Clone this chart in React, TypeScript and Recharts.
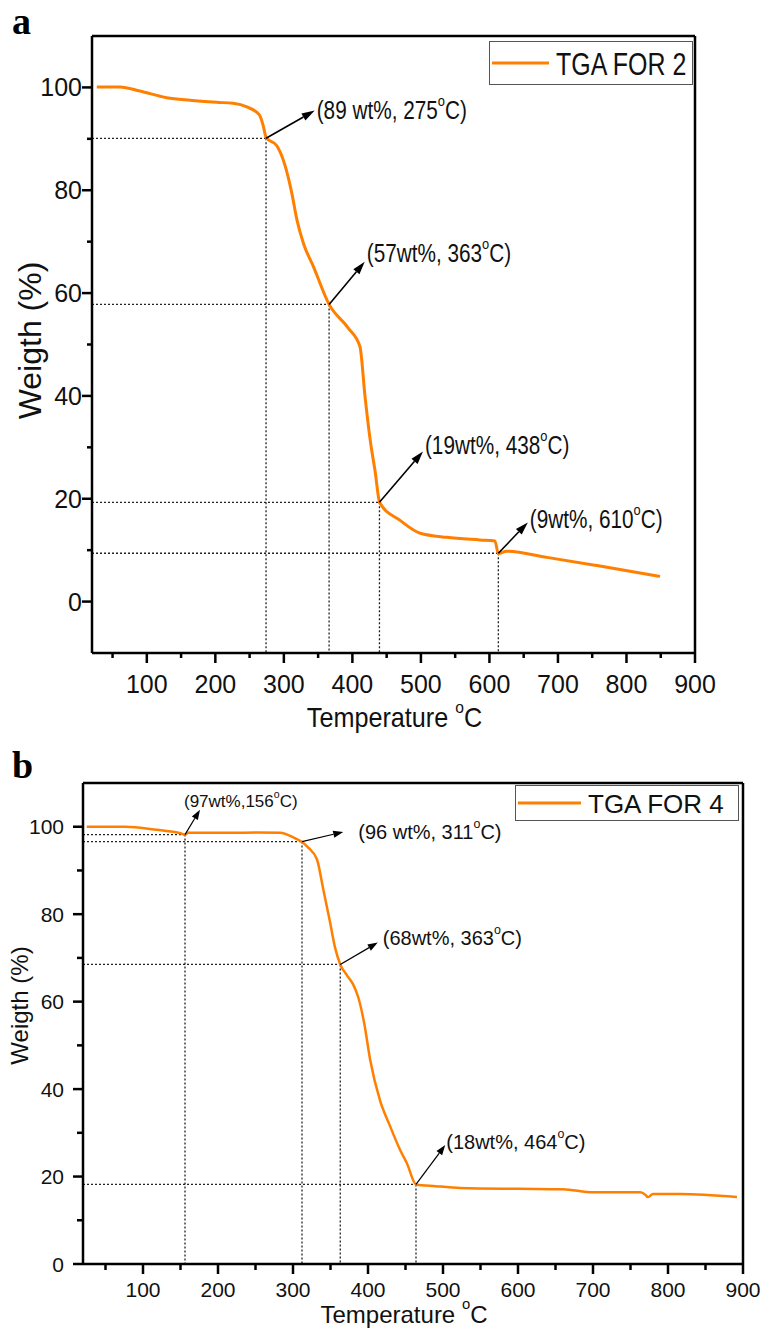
import { LineChart, Line, XAxis, YAxis, ReferenceLine, Legend } from 'recharts';

const FONT = '"Liberation Sans", Arial, Helvetica, sans-serif';
const ORANGE = '#ff7f00';

// ---- panel a : TGA FOR 2
const tempA = [27, 61, 90, 129, 163, 202, 226, 246, 264, 270, 274, 290, 302, 311.5, 319, 328.5, 343, 366, 394, 411, 418.5, 426, 433, 440, 469.6, 499, 537.8, 586, 608, 613, 625, 684, 757, 849];
const weightA = [100.1, 100.1, 99.3, 98.0, 97.5, 97.1, 96.9, 96.2, 94.7, 92.5, 90.3, 88.6, 84.7, 79.5, 74.3, 69.7, 65.2, 57.8, 53.2, 49.6, 39.8, 31.4, 25.5, 19.2, 15.8, 13.3, 12.5, 12.0, 11.8, 9.3, 9.8, 8.6, 7.0, 4.9];
const markTempA = [274, 366, 439.5, 613];
const markWeightA = [90.1, 57.8, 19.3, 9.4];
const tipTempA = [345, 418, 503, 656];
const tipWeightA = [95.5, 66.1, 29.2, 15.4];
const labelsA = ['(89 wt%, 275°C)', '(57wt%, 363°C)', '(19wt%, 438°C)', '(9wt%, 610°C)'];

// ---- panel b : TGA FOR 4
const tempB = [25, 76, 118, 150, 156, 160, 200, 252, 283, 300, 311, 320, 332, 340, 349, 356, 363, 372, 380, 387, 395, 403, 416, 429, 443, 452, 464, 490, 523, 600, 660, 700, 763, 770, 773, 780, 816, 892];
const weightB = [100, 100, 99.3, 98.5, 98.2, 98.6, 98.6, 98.7, 98.6, 97.6, 96.6, 95.3, 92.5, 86, 78.5, 72.4, 68.5, 66, 64, 61, 55, 46.6, 37.4, 31.7, 26, 23, 18.2, 17.8, 17.4, 17.2, 17.1, 16.4, 16.4, 15.8, 15.3, 16, 16, 15.3];
const markTempB = [156, 312, 363, 464];
const markWeightB = [98.2, 96.6, 68.5, 18.2];
const tipTempB = [176, 367, 413, 503];
const tipWeightB = [103.9, 98.8, 73.5, 27.2];
const labelsB = ['(97wt%,156°C)', '(96 wt%, 311°C)', '(68wt%, 363°C)', '(18wt%, 464°C)'];

// ticks (major ones carry labels)
const xTicks = [50, 100, 150, 200, 250, 300, 350, 400, 450, 500, 550, 600, 650, 700, 750, 800, 850, 900];
const xMajor = [100, 200, 300, 400, 500, 600, 700, 800, 900];
const yTicks = [0, 10, 20, 30, 40, 50, 60, 70, 80, 90, 100];
const yMajor = [0, 20, 40, 60, 80, 100];

function withDegree(s: string, size: number) {
  const parts = String(s).split('°');
  if (parts.length < 2) return s;
  const up = size * 0.4;
  return [
    <tspan key="a">{parts[0]}</tspan>,
    <tspan key="o" dy={-up} fontSize={size * 0.62}>o</tspan>,
    <tspan key="c" dy={up} fontSize={size}>{parts[1]}</tspan>,
  ];
}

function SText({ x, y, size, sx = 1, anchor = 'start', rotate = 0, weight = 'normal', children }: any) {
  return (
    <text
      transform={`translate(${x},${y}) rotate(${rotate}) scale(${sx},1)`}
      fontSize={size}
      fontFamily={FONT}
      fontWeight={weight}
      textAnchor={anchor}
      dominantBaseline="central"
      fill="#111"
    >
      {withDegree(children, size)}
    </text>
  );
}

const AXIS_H = 40;
const AXIS_W = 60;

function TgaPanel({ cfg }: any) {
  const data = cfg.temps.map((t: number, i: number) => ({ t, w: cfg.weights[i] }));
  const [yMin, yMax] = cfg.yDomain;
  const s = cfg.style;
  const m = cfg.margin;
  const margin = { top: m.top, right: m.right, left: m.left - AXIS_W, bottom: m.bottom - AXIS_H };

  const xTick = (p: any) => {
    const v = p.payload.value;
    const major = xMajor.includes(v);
    return (
      <g>
        <line x1={p.x} y1={p.y} x2={p.x} y2={p.y + (major ? s.majorLen : s.minorLen)} stroke="#000" strokeWidth={s.axisW} />
        {major && <SText x={p.x} y={p.y + s.xLabelDy} size={s.tickSize} sx={s.tickSx} anchor="middle">{v}</SText>}
      </g>
    );
  };
  const yTick = (p: any) => {
    const v = p.payload.value;
    const major = yMajor.includes(v);
    return (
      <g>
        <line x1={p.x} y1={p.y} x2={p.x - (major ? s.majorLen : s.minorLen)} y2={p.y} stroke="#000" strokeWidth={s.axisW} />
        {major && <SText x={p.x + s.yLabelDx} y={p.y} size={s.tickSize} sx={s.tickSx} anchor="end">{v}</SText>}
      </g>
    );
  };

  const xTitle = (p: any) => {
    const vb = p.viewBox;
    return <SText x={vb.x + vb.width / 2 + s.xTitle.dx} y={vb.y + s.xTitle.dy} size={s.xTitle.size} sx={s.xTitle.sx} anchor="middle">Temperature °C</SText>;
  };
  const yTitle = (p: any) => {
    const vb = p.viewBox;
    return <SText x={vb.x + vb.width + s.yTitle.dx} y={vb.y + vb.height / 2 + s.yTitle.dy} size={s.yTitle.size} anchor="middle" rotate={-90}>Weigth (%)</SText>;
  };

  const arrow = (i: number) => (p: any) => {
    const { x1, y1, x2, y2 } = p;
    const a = Math.atan2(y2 - y1, x2 - x1);
    const c = Math.cos(a), sn = Math.sin(a);
    const L = s.head[0], W = s.head[1] / 2;
    const bx = x2 - L * c, by = y2 - L * sn;
    const pts = `${x2},${y2} ${bx + W * sn},${by - W * c} ${bx - W * sn},${by + W * c}`;
    const nudge = cfg.nudges[i];
    return (
      <g>
        <line x1={x1} y1={y1} x2={bx} y2={by} stroke="#000" strokeWidth={s.arrowW} />
        <polygon points={pts} fill="#000" />
        <SText x={x2 + nudge[0]} y={y2 + nudge[1]} size={nudge[2] || s.annSize} sx={s.annSx}>{cfg.labels[i]}</SText>
      </g>
    );
  };

  const legendContent = (p: any) => {
    const item = (p.payload || [])[0] || { value: cfg.name, color: ORANGE };
    const lg = s.legend;
    return (
      <svg width={lg.w} height={lg.h} style={{ display: 'block' }}>
        <rect x={0.5} y={0.5} width={lg.w - 1} height={lg.h - 1} fill="#fff" stroke="#555" strokeWidth={1} />
        <line x1={3} y1={lg.h / 2} x2={3 + lg.line} y2={lg.h / 2} stroke={item.color} strokeWidth={3} />
        <SText x={lg.textX} y={lg.h / 2 + 1} size={lg.size} sx={lg.sx}>{item.value}</SText>
      </svg>
    );
  };

  return (
    <div style={{ position: 'absolute', left: 0, top: cfg.top, width: 764, height: cfg.height }}>
      <LineChart width={764} height={cfg.height} data={data} margin={margin}>
        <XAxis
          type="number"
          dataKey="t"
          domain={[20, 900]}
          ticks={xTicks}
          interval={0}
          height={AXIS_H}
          tickSize={0}
          tickMargin={0}
          tickLine={false}
          tick={xTick}
          axisLine={{ stroke: '#000', strokeWidth: s.axisW }}
          allowDataOverflow
          label={xTitle}
        />
        <YAxis
          type="number"
          domain={cfg.yDomain}
          ticks={yTicks}
          interval={0}
          width={AXIS_W}
          tickSize={0}
          tickMargin={0}
          tickLine={false}
          tick={yTick}
          axisLine={{ stroke: '#000', strokeWidth: s.axisW }}
          allowDataOverflow
          label={yTitle}
        />
        <ReferenceLine y={yMax} stroke="#000" strokeWidth={s.axisW} ifOverflow="visible" />
        <ReferenceLine x={900} stroke="#000" strokeWidth={s.axisW} ifOverflow="visible" />
        {cfg.markT.map((t: number, i: number) => (
          <ReferenceLine
            key={`h${i}`}
            segment={[{ x: 20, y: cfg.markW[i] }, { x: t, y: cfg.markW[i] }]}
            stroke="#222"
            strokeWidth={1.3}
            strokeDasharray="2 2"
            ifOverflow="visible"
          />
        ))}
        {cfg.markT.map((t: number, i: number) => (
          <ReferenceLine
            key={`v${i}`}
            segment={[{ x: t, y: cfg.markW[i] }, { x: t, y: yMin }]}
            stroke="#222"
            strokeWidth={1.3}
            strokeDasharray="2 2"
            ifOverflow="visible"
          />
        ))}
        <Line
          type="monotone"
          dataKey="w"
          name={cfg.name}
          stroke={ORANGE}
          strokeWidth={s.lineW}
          dot={false}
          activeDot={false}
          isAnimationActive={false}
        />
        {cfg.markT.map((t: number, i: number) => (
          <ReferenceLine
            key={`a${i}`}
            segment={[{ x: t, y: cfg.markW[i] }, { x: cfg.tipT[i], y: cfg.tipW[i] }]}
            ifOverflow="visible"
            shape={arrow(i)}
          />
        ))}
        <Legend
          layout="vertical"
          align="center"
          verticalAlign="middle"
          content={legendContent}
          wrapperStyle={{ position: 'absolute', left: s.legend.x, top: s.legend.y, width: s.legend.w, height: s.legend.h, right: 'auto', bottom: 'auto' }}
        />
      </LineChart>
      <div style={{ position: 'absolute', left: 12, top: cfg.letterTop, fontFamily: '"Liberation Serif", "Times New Roman", serif', fontWeight: 'bold', fontSize: 38, lineHeight: '38px' }}>
        {cfg.letter}
      </div>
    </div>
  );
}

const panelA = {
  name: 'TGA FOR 2',
  letter: 'a',
  letterTop: 2,
  top: 0,
  height: 740,
  margin: { top: 36, left: 92, right: 69, bottom: 87 },
  yDomain: [-10, 110],
  temps: tempA,
  weights: weightA,
  markT: markTempA,
  markW: markWeightA,
  tipT: tipTempA,
  tipW: tipWeightA,
  labels: labelsA,
  nudges: [[2, 0], [2, -8], [2, -6], [2, -3]],
  style: {
    axisW: 2.5, majorLen: 10, minorLen: 5, tickSize: 25, tickSx: 1, xLabelDy: 31, yLabelDx: -10,
    xTitle: { size: 28, sx: 0.9, dx: 1, dy: 65 },
    yTitle: { size: 32, dx: -62, dy: -4 },
    legend: { x: 489, y: 41, w: 204, h: 44, line: 57, textX: 67, size: 32, sx: 0.78 },
    annSize: 25, annSx: 0.83, arrowW: 1.6, head: [13, 8], lineW: 3,
  },
};

const panelB = {
  name: 'TGA FOR 4',
  letter: 'b',
  letterTop: 6,
  top: 740,
  height: 588,
  margin: { top: 43, left: 83, right: 21, bottom: 64 },
  yDomain: [0, 110],
  temps: tempB,
  weights: weightB,
  markT: markTempB,
  markW: markWeightB,
  tipT: tipTempB,
  tipW: tipWeightB,
  labels: labelsB,
  nudges: [[-16, -9, 17], [15, 0], [5, -5], [1, -3]],
  style: {
    axisW: 2.5, majorLen: 10, minorLen: 6, tickSize: 21, tickSx: 1, xLabelDy: 25, yLabelDx: -19,
    xTitle: { size: 24, sx: 1, dx: -9, dy: 50 },
    yTitle: { size: 24, dx: -64, dy: -18 },
    legend: { x: 515, y: 45, w: 224, h: 36, line: 63, textX: 73, size: 26, sx: 1 },
    annSize: 20, annSx: 1, arrowW: 1.2, head: [10, 7], lineW: 2.5,
  },
};

export default function App() {
  return (
    <div style={{ position: 'absolute', left: 0, top: 0, width: 764, height: 1328, background: '#fff', overflow: 'hidden' }}>
      <TgaPanel cfg={panelA} />
      <TgaPanel cfg={panelB} />
    </div>
  );
}
